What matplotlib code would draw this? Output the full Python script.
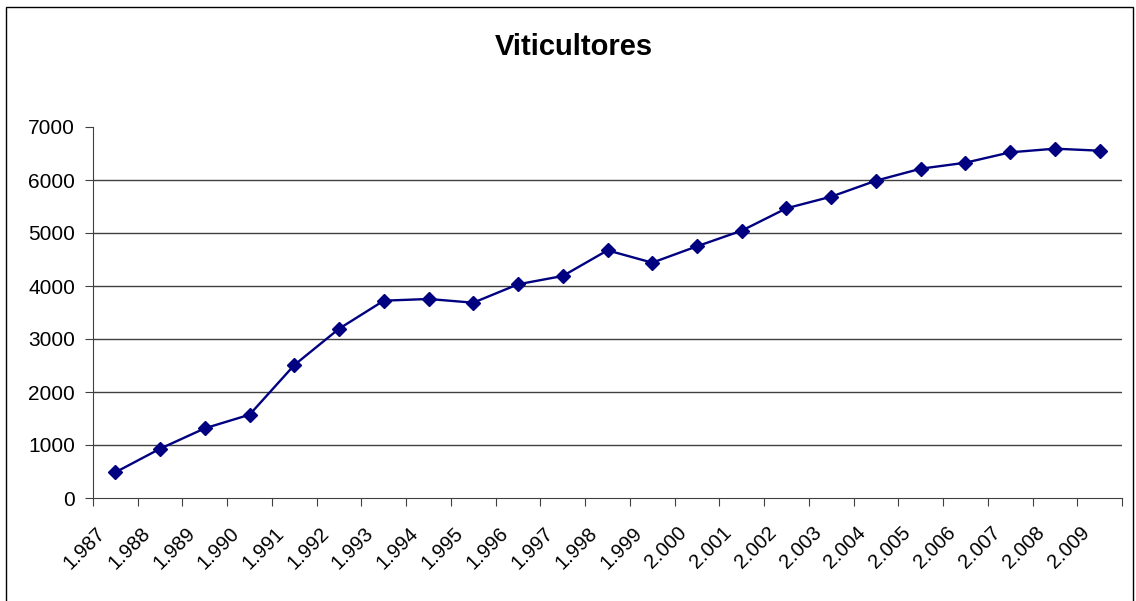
import matplotlib
matplotlib.use('Agg')
import matplotlib.pyplot as plt
from matplotlib.patches import Rectangle
from matplotlib.transforms import ScaledTranslation

# data
years = ['1.987', '1.988', '1.989', '1.990', '1.991', '1.992', '1.993', '1.994',
         '1.995', '1.996', '1.997', '1.998', '1.999', '2.000', '2.001', '2.002',
         '2.003', '2.004', '2.005', '2.006', '2.007', '2.008', '2.009']
viticultores = [485, 930, 1315, 1572, 2509, 3194, 3723, 3755,
                3685, 4032, 4189, 4673, 4440, 4749, 5044, 5466,
                5686, 5987, 6213, 6326, 6522, 6591, 6553]
y_ticks = [0, 1000, 2000, 3000, 4000, 5000, 6000, 7000]


def main():
    plt.rcParams['font.family'] = ['Liberation Sans', 'DejaVu Sans']

    fig = plt.figure(figsize=(11.36, 6.01), dpi=100)
    ax = fig.add_axes([93 / 1136, 1 - 498 / 601, (1122 - 93) / 1136, (498 - 127) / 601])

    # chart frame around the whole figure
    fig.patches.append(Rectangle((5.5 / 1136, -0.01), 1127 / 1136, 1.01 - 6.5 / 601,
                                 transform=fig.transFigure, fill=False,
                                 edgecolor='black', linewidth=1))

    x = list(range(len(years)))
    for v in y_ticks[1:-1]:
        ax.axhline(v, color='#404040', linewidth=1, zorder=1)

    ax.plot(x, viticultores, color='#000080', linewidth=1.7, marker='D',
            markersize=6.8, zorder=3)

    ax.set_xlim(-0.5, len(years) - 0.5)
    ax.set_ylim(0, 7000)
    ax.set_yticks(y_ticks)
    ax.set_yticklabels([str(v) for v in y_ticks], fontsize=15)

    ax.set_xticks([i - 0.5 for i in range(len(years) + 1)], minor=False)
    ax.set_xticklabels([])
    ax.set_xticks(x, minor=True)
    ax.set_xticklabels(years, minor=True, rotation=45, ha='right', va='center',
                       rotation_mode='anchor', fontsize=14.5)
    ax.tick_params(axis='x', which='minor', length=0, pad=0)
    ax.tick_params(axis='x', which='major', length=6, color='#404040')
    ax.tick_params(axis='y', length=6, color='#404040', pad=7)

    # shift the slanted year labels like Excel places them
    shift = ScaledTranslation(-13 / 100, -32 / 100, fig.dpi_scale_trans)
    for lbl in ax.get_xticklabels(minor=True):
        lbl.set_transform(lbl.get_transform() + shift)

    for side in ['top', 'right']:
        ax.spines[side].set_visible(False)
    ax.spines['left'].set_color('#404040')
    ax.spines['bottom'].set_color('#404040')

    fig.text(574 / 1136, 1 - 47 / 601, 'Viticultores', ha='center', va='center',
             fontsize=21, fontweight='bold')

    fig.savefig('out.png', dpi=100)


if __name__ == '__main__':
    main()
